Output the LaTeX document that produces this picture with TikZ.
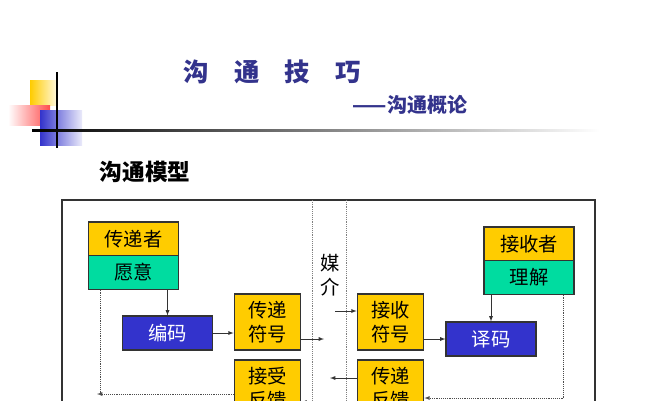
\documentclass[tikz,border=0pt]{standalone}
\usepackage{fontspec}
\setmainfont{Noto Sans CJK SC}
\usetikzlibrary{positioning}
\usetikzlibrary{arrows}
\definecolor{boxyellow}{RGB}{255,204,0}
\definecolor{boxgreen}{RGB}{0,220,160}
\definecolor{boxblue}{RGB}{51,51,204}
\definecolor{titlenavy}{RGB}{51,51,140}
\begin{document}
\begin{tikzpicture}[x=0.75pt,y=-0.75pt,>=latex,
                    box/.style={draw=black!80,thick,inner sep=0pt,font=\fontsize{14.5}{18}\selectfont,align=center},
                    yellow box/.style={box,fill=boxyellow,minimum width=67.5pt,minimum height=25.5pt},
                    green box/.style={box,fill=boxgreen,minimum width=67.5pt,minimum height=25pt},
                    blue box/.style={box,fill=boxblue,text=white,minimum width=67.5pt,minimum height=25.5pt},
                    sym box/.style={box,fill=boxyellow,minimum width=50pt,minimum height=42pt},
                    feed/.style={densely dotted,black!70},
                    flow/.style={->,black!80}]
      \useasboundingbox (0,0) rectangle (667,400);
      \clip (0,0) rectangle (667,400);

      % header decoration
      \shade[left color=boxyellow,right color=boxyellow!10] (30,80) rectangle (58,105);
      \shade[left color=white,right color=red!70] (8,105) rectangle (50,125);
      \shade[left color=boxblue,right color=boxblue!10] (40,110) rectangle (82,145);
      \draw[thick] (57,72) -- (57,148);
      \shade[left color=black,right color=white] (32,129) rectangle (600,131);
      \node[text=titlenavy,font=\fontsize{19}{22}\selectfont\bfseries] (title) at (272,72) {沟\quad 通\quad 技\quad 巧};
      \node[text=titlenavy,font=\fontsize{15}{18}\selectfont\bfseries] (subtitle) at (410,105) {——沟通概论};
      \node[font=\fontsize{17}{20}\selectfont\bfseries,anchor=west] (model) at (95,172) {沟通模型};

      % frame and medium
      \draw[thick,black!80] (62,420) -- (62,200) -- (595,200) -- (595,420);
      \draw[densely dotted,black!50] (312,200) -- (312,420);
      \draw[densely dotted,black!50] (346,200) -- (346,420);
      \node[font=\fontsize{14.5}{18}\selectfont,align=center] (medium) at (330,275) {媒\\介};

      % sender side
      \node[yellow box] (sender) at (133.5,239) {传递者};
      \node[green box] (intent) at (133.5,272.5) {愿意};
      \node[blue box] (encode) at (167.5,333) {编码};
      \node[sym box] (sendsym) at (267.5,322) {传递\\符号};
      \node[sym box] (recvfb) at (267.5,388) {接受\\反馈};

      % receiver side
      \node[yellow box] (receiver) at (529,244) {接收者};
      \node[green box] (understand) at (529,277.5) {理解};
      \node[blue box] (decode) at (491,339) {译码};
      \node[sym box] (recvsym) at (390.5,322) {接收\\符号};
      \node[sym box] (sendfb) at (390.5,388) {传递\\反馈};

      \coordinate (outl) at (324,339);
      \coordinate (inr) at (335,311);
      \coordinate (fbl) at (330,378);
      \coordinate (fbr) at (324,402);
      \coordinate (leftc) at (100,394);
      \coordinate (rightc) at (563,398);

      \draw[flow] (intent.south -| encode.north) -- (encode.north);
      \draw[flow] (encode) -- (sendsym.west |- encode);
      \draw[flow] (sendsym.east |- outl) -- (outl);
      \draw[flow] (inr) -- (recvsym.west |- inr);
      \draw[flow] (recvsym.east |- decode) -- (decode);
      \draw[flow] (understand.south -| decode.north) -- (decode.north);
      \draw[flow] (sendfb.west |- fbl) -- (fbl);
      \draw[flow] (fbr) -- (recvfb.east |- fbr);

      % feedback loops
      \draw[feed,->] (intent.south -| leftc) -- (leftc) -- ++(-3,0);
      \draw[feed] (recvfb.west |- leftc) -- (leftc);
      \draw[feed] (understand.south -| rightc) -- (rightc);
      \draw[feed,->] (rightc) -- (sendfb.east |- rightc);
\end{tikzpicture}
\end{document}
